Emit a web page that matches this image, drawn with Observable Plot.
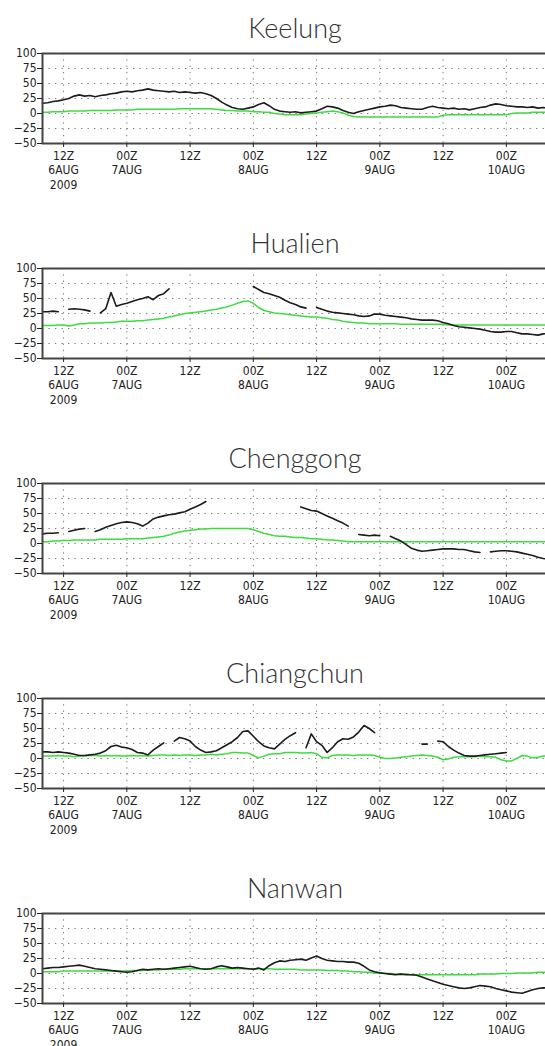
<!DOCTYPE html>
<html><head><meta charset="utf-8">
<script src="https://cdn.jsdelivr.net/npm/d3@7"></script>
<script src="https://cdn.jsdelivr.net/npm/@observablehq/plot@0.6"></script>
<style>
html,body{margin:0;padding:0;background:#fff;overflow:hidden;width:545px;height:1046px}
.panel{position:relative;height:215px;width:548px;overflow:visible}
.title{height:49px;width:590px;text-align:center;font-family:Lato,"Open Sans",sans-serif;font-weight:300;font-size:27px;line-height:27px;padding-top:14px;box-sizing:border-box;color:#333;white-space:nowrap}
svg{display:block}
</style></head><body><div id="root"></div>
<script>
// hours since 00Z 6 Aug 2009
const hours = [8,9,10,11,12,13,14,15,16,17,18,19,20,21,22,23,24,25,26,27,28,29,30,31,32,33,34,35,36,37,38,39,40,41,42,43,44,45,46,47,48,49,50,51,52,53,54,55,56,57,58,59,60,61,62,63,64,65,66,67,68,69,70,71,72,73,74,75,76,77,78,79,80,81,82,83,84,85,86,87,88,89,90,91,92,93,94,95,96,97,98,99,100,101,102,103,104];
const tickHours = [12,24,36,48,60,72,84,96];
const tickLabels = ["12Z\n6AUG\n2009","00Z\n7AUG","12Z","00Z\n8AUG","12Z","00Z\n9AUG","12Z","00Z\n10AUG"];
const yTicks = [100,75,50,25,0,-25,-50];
const yGrid = [75,50,25,0,-25];
const stationNames = ["Keelung","Hualien","Chenggong","Chiangchun","Nanwan"];
const _ = null;

const keelungObs = [17,18,
 20,21,23,25,29,31,29,30,28,30,
 31,33,34,36,37,36,38,39,41,39,
 38,37,36,37,35,36,35,34,35,33,
 30,25,19,14,10,8,7,9,11,15,
 18,13,7,4,3,2,3,1,2,3,
 4,8,12,11,9,5,2,0,3,5,
 7,9,11,12,14,13,10,9,8,7,
 7,10,12,10,9,8,9,7,8,6,
 8,10,11,14,16,15,13,12,11,11,
 10,11,9,10,9];
const keelungModel = [2,2,
 3,3,3,4,4,4,4,5,5,5,
 5,5,6,6,6,6,7,7,7,7,
 7,7,7,7,8,8,8,8,8,8,
 8,7,6,5,5,4,4,4,3,3,
 2,2,0,-1,-2,-2,-2,-2,-1,0,
 1,2,3,4,3,1,-3,-5,-6,-6,
 -6,-6,-6,-6,-6,-6,-6,-6,-6,-6,
 -6,-6,-6,-6,-3,-2,-2,-2,-2,-2,
 -2,-2,-2,-2,-2,-2,-2,0,1,1,
 1,2,2,2,2];

const hualienObs = [28,28,
 29,28,_,32,33,32,31,29,_,26,
 33,60,37,40,42,45,48,50,53,48,
 55,58,66,_,_,_,_,_,_,_,
 _,_,_,_,_,_,_,_,70,65,
 60,58,55,52,47,43,40,36,34,_,
 35,32,29,27,26,25,24,23,21,20,
 21,24,24,22,21,20,19,18,16,15,
 14,14,14,13,10,8,5,3,2,1,
 0,-1,-3,-5,-6,-6,-5,-5,-7,-9,
 -9,-10,-11,-9,-8];
const hualienModel = [5,5,
 5,6,6,4,6,8,8,9,9,9,
 10,10,11,12,12,12,13,13,14,15,
 16,17,19,21,23,25,26,27,28,29,
 31,32,34,36,39,42,45,46,42,35,
 30,28,26,25,24,23,22,21,20,19,
 19,18,17,15,14,12,11,10,9,9,
 8,8,8,8,8,8,7,7,7,7,
 7,7,7,7,7,6,6,6,6,6,
 6,6,6,6,6,6,6,6,6,6,
 6,6,6,6,6];

const chenggongObs = [16,17,
 17,18,_,20,22,24,25,_,20,23,
 27,30,33,35,36,35,33,29,34,41,
 44,46,48,49,51,53,57,61,65,70,
 _,_,_,_,_,_,_,_,_,_,
 _,_,_,_,_,_,_,61,58,55,
 54,50,46,42,38,34,29,_,15,14,
 13,14,13,_,12,8,4,-2,-8,-11,
 -13,-12,-11,-10,-9,-9,-9,-10,-10,-12,
 -14,-15,_,-14,-13,-12,-12,-13,-14,-16,
 -18,-20,-23,-25,-26];
const chenggongModel = [3,3,
 4,4,5,5,6,6,6,6,6,7,
 7,7,7,7,8,8,8,8,9,10,
 11,12,14,17,19,21,22,23,24,24,
 25,25,25,25,25,25,25,25,23,20,
 17,15,13,12,12,11,10,10,9,8,
 8,7,6,6,5,4,3,3,3,3,
 3,3,3,3,3,3,3,3,3,3,
 3,3,3,3,3,3,3,3,3,3,
 3,3,3,3,3,3,3,3,3,3,
 3,3,3,3,3];

const chiangchunObs = [11,11,
 10,11,10,9,7,5,5,6,7,9,
 13,20,22,19,18,15,10,9,6,14,
 20,26,_,29,35,33,29,20,14,10,
 11,13,18,23,28,35,45,46,37,28,
 21,18,16,24,32,38,43,_,18,41,
 28,22,10,18,28,33,32,36,44,55,
 50,43,_,_,_,_,_,_,_,_,
 24,24,_,29,28,20,14,9,5,4,
 4,5,6,7,8,9,10,_,_,_,
 _,_,_,_,_];
const chiangchunModel = [4,4,
 4,5,4,4,3,4,4,5,5,4,
 5,4,5,4,4,5,4,5,4,5,
 6,6,5,6,5,6,6,5,6,6,
 7,6,7,8,10,10,9,9,5,1,
 4,7,8,8,10,10,10,9,9,10,
 8,2,1,5,6,6,6,5,6,6,
 6,5,2,0,0,1,2,3,4,5,
 6,5,4,2,-2,-1,2,3,3,3,
 3,4,3,3,2,-2,-4,-4,0,5,
 4,1,2,4,5];

const nanwanObs = [8,9,
 10,10,11,12,13,14,12,10,8,7,
 6,5,4,3,2,3,5,7,6,7,
 8,7,8,9,10,11,12,10,8,7,
 8,11,13,11,9,10,9,8,7,9,
 6,13,18,21,20,22,23,24,22,26,
 29,25,22,21,20,20,19,19,17,12,
 6,3,1,0,-1,-2,-1,-2,-2,-3,
 -6,-9,-12,-15,-18,-20,-22,-24,-25,-24,
 -22,-20,-21,-22,-25,-27,-29,-31,-32,-33,
 -30,-27,-25,-24,-24];
const nanwanModel = [3,3,
 3,3,4,4,4,4,4,4,4,4,
 4,4,4,4,4,5,5,5,6,6,
 6,7,7,7,7,8,8,8,8,8,
 8,8,8,8,8,8,8,8,8,8,
 8,8,7,7,7,7,7,6,6,6,
 6,6,5,5,5,4,4,3,3,2,
 2,1,1,0,0,-1,-1,-1,-2,-2,
 -2,-2,-2,-2,-2,-2,-2,-2,-2,-2,
 -2,-1,-1,-1,-1,0,0,0,1,1,
 1,1,2,2,2];

const obsSeries = [keelungObs, hualienObs, chenggongObs, chiangchunObs, nanwanObs];
const modelSeries = [keelungModel, hualienModel, chenggongModel, chiangchunModel, nanwanModel];

const labelByHour = new Map(tickHours.map((h, i) => [h, tickLabels[i]]));
const root = document.getElementById("root");

stationNames.forEach((name, k) => {
  const rows = hours.map((h, i) => ({h, obs: obsSeries[k][i], model: modelSeries[k][i]}));
  const panel = document.createElement("div");
  panel.className = "panel";
  const title = document.createElement("div");
  title.className = "title";
  title.textContent = name;
  panel.appendChild(title);
  const chart = Plot.plot({
    width: 548, height: 166,
    marginTop: 4, marginBottom: 72, marginLeft: 42, marginRight: 0,
    style: {fontFamily: "'DejaVu Sans Condensed','DejaVu Sans',sans-serif", fontSize: "12px", color: "#222", background: "#fff", overflow: "visible"},
    x: {domain: [8, 104]},
    y: {domain: [-50, 100]},
    marks: [
      Plot.gridY(yGrid, {stroke: "#777", strokeOpacity: 1, strokeDasharray: "1.3,5.2"}),
      Plot.gridX(tickHours, {stroke: "#777", strokeOpacity: 1, strokeDasharray: "1.3,5"}),
      Plot.line(rows, {x: "h", y: "model", stroke: "#3fdc3f", strokeWidth: 1.5}),
      Plot.line(rows, {x: "h", y: "obs", stroke: "#1c1c1c", strokeWidth: 1.6}),
      Plot.frame({stroke: "#444", strokeWidth: 2}),
      Plot.axisY(yTicks, {tickSize: 5, tickPadding: 1, fontSize: 12, label: null}),
      Plot.axisX(tickHours, {tickFormat: d => labelByHour.get(d), tickSize: 4, tickPadding: 2, fontSize: 12, lineHeight: 1.2, label: null})
    ]
  });
  panel.appendChild(chart);
  root.appendChild(panel);
});
</script>
</body></html>
